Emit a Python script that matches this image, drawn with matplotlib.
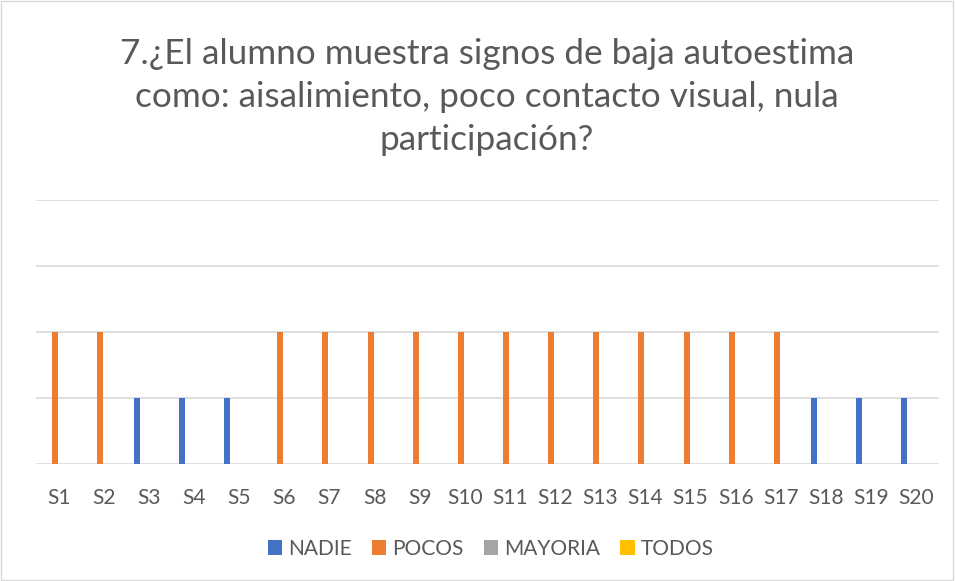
import numpy as np
import matplotlib.pyplot as plt
from matplotlib.patches import Rectangle

CATEGORIES = [f'S{i}' for i in range(1, 21)]
SERIES = ['NADIE', 'POCOS', 'MAYORIA', 'TODOS']
COLORS = ['#4472C4', '#ED7D31', '#A5A5A5', '#FFC000']
NADIE = [0, 0, 1, 1, 1, 0, 0, 0, 0, 0, 0, 0, 0, 0, 0, 0, 0, 1, 1, 1]
POCOS = [2, 2, 0, 0, 0, 2, 2, 2, 2, 2, 2, 2, 2, 2, 2, 2, 2, 0, 0, 0]
MAYORIA = [0] * 20
TODOS = [0] * 20
TITLE = '7.¿El alumno muestra signos de baja autoestima\ncomo: aisalimiento, poco contacto visual, nula\nparticipación?'

TEXT_COLOR = '#595959'
plt.rcParams['font.family'] = ['Lato', 'DejaVu Sans']

fig = plt.figure(figsize=(9.55, 5.81), dpi=100)
ax = fig.add_axes([0.0377, 0.2014, 0.9453, 0.4544])

x = np.arange(len(CATEGORIES))
step = 0.177
width = 0.133
for i, (name, vals, col) in enumerate(zip(SERIES, [NADIE, POCOS, MAYORIA, TODOS], COLORS)):
    ax.bar(x + (i - 1.5) * step, vals, width=width, color=col, label=name, zorder=3)

ax.set_xlim(-0.5, len(CATEGORIES) - 0.5)
ax.set_ylim(0, 4)
ax.set_yticks([0, 1, 2, 3, 4])
ax.set_yticklabels([])
ax.grid(axis='y', color='#D9D9D9', linewidth=1.2, zorder=0)
ax.set_xticks(x)
ax.set_xticklabels(CATEGORIES, fontsize=15, color=TEXT_COLOR)
ax.tick_params(axis='both', length=0, pad=17)
for s in ax.spines.values():
    s.set_visible(False)

fig.text(0.51, 0.934, TITLE, ha='center', va='top', fontsize=25.3, color=TEXT_COLOR,
         linespacing=1.41)

fig.legend(loc='center', bbox_to_anchor=(0.514, 0.055), ncol=4, frameon=False,
           fontsize=15, labelcolor=TEXT_COLOR, handlelength=0.7, handleheight=0.7,
           handletextpad=0.3, columnspacing=0.95)

fig.patches.append(Rectangle((0.001, 0.001), 0.997, 0.997, transform=fig.transFigure,
                             fill=False, edgecolor='#D9D9D9', linewidth=1))

fig.savefig('out.png', dpi=100)
